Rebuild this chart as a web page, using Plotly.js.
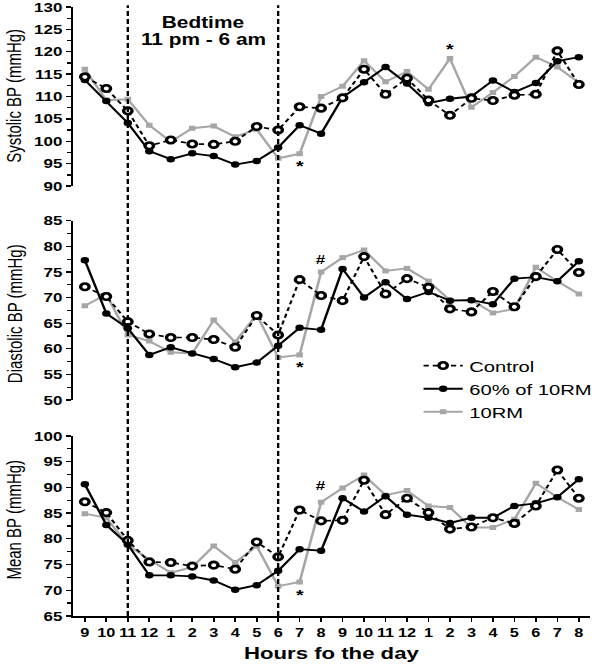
<!DOCTYPE html>
<html>
<head>
<meta charset="utf-8">
<script src="https://cdn.plot.ly/plotly-3.0.1.min.js"></script>
<style>
  html, body { margin: 0; padding: 0; background: #fff; overflow: hidden; }
  #plot { width: 460px; height: 664px; transform: scaleX(1.30435); transform-origin: 0 0; }
</style>
</head>
<body>
<div id="plot"></div>
<script>
// ---- data ----
const hours = ['9','10','11','12','1','2','3','4','5','6','7','8','9','10','11','12','1','2','3','4','5','6','7','8'];
const seriesNames = ['Control', '60% of 10RM', '10RM'];

const sysControl = [114.4,111.8,106.8,99.0,100.3,99.4,99.3,100.0,103.3,102.5,107.7,107.4,109.7,116.1,110.5,114.1,109.2,105.8,109.6,109.1,110.3,110.5,120.2,112.7];
const sys60      = [113.7,109.0,104.1,97.8,96.0,97.3,96.7,94.8,95.6,98.6,103.6,101.7,109.8,113.2,116.6,112.9,108.5,109.5,110.0,113.6,111.0,113.0,117.9,118.8];
const sys10RM    = [116.1,109.2,109.4,103.6,99.9,102.9,103.4,101.0,102.7,96.2,97.2,110.0,112.3,118.0,113.3,115.6,111.6,118.5,107.6,110.9,114.5,118.8,116.6,113.1];

const diaControl = [72.1,70.2,65.3,62.9,62.2,62.2,61.8,60.3,66.5,62.7,73.5,70.4,69.4,78.0,70.7,73.7,72.0,67.8,67.2,71.2,68.2,74.1,79.4,74.9];
const dia60      = [77.3,66.9,64.0,58.8,60.3,59.1,58.0,56.4,57.3,60.6,64.1,63.7,75.6,70.0,73.0,69.7,71.1,69.4,69.5,68.7,73.7,74.0,73.2,77.1];
const dia10RM    = [68.4,70.6,62.7,61.5,59.3,59.1,65.6,61.3,66.7,58.3,58.8,75.0,77.8,79.3,75.2,75.7,73.2,69.5,69.5,67.0,67.8,75.9,73.2,70.7];

const meanControl = [87.2,85.1,79.7,75.5,75.4,74.7,74.9,74.1,79.4,76.5,85.6,83.5,83.6,91.4,84.7,87.9,85.1,81.9,82.3,84.1,83.0,86.4,93.4,87.9];
const mean60      = [90.6,82.7,78.9,72.9,72.9,72.7,71.9,70.1,71.0,73.8,78.0,77.7,87.9,85.3,88.3,84.7,84.1,83.1,84.1,84.1,86.4,86.9,88.1,91.6];
const mean10RM    = [84.9,84.1,78.8,76.0,73.4,74.5,78.6,75.4,78.6,70.8,71.6,87.1,89.9,92.4,88.5,89.4,86.4,86.1,82.2,82.2,83.8,90.8,88.1,85.7];

// bedtime boundaries (hour index of 11 pm and 6 am)
const bedtimeIdx = [2, 9];
const bedtimeText = ['Bedtime', '11 pm - 6 am'];

// significance marks: [panel, hour index, value, symbol]
const sigPanel = ['sys','sys','dia','dia','mean','mean'];
const sigIdx   = [10, 17, 10, 11, 10, 11];
const sigVal   = [94.6, 120.8, 56.6, 77.4, 69.2, 90.3];
const sigText  = ['*', '*', '*', '#', '*', '#'];

const panelTitles = {sys: 'Systolic BP (mmHg)', dia: 'Diastolic BP (mmHg)', mean: 'Mean BP (mmHg)'};
const xTitle = 'Hours fo the day';

// ---- chart ----
const idx = hours.map((_, i) => i);
const axisOf = {mean: 'y', dia: 'y2', sys: 'y3'};
const GRAY = '#a6a6a6';
const FONT = 'Arial, "Liberation Sans", sans-serif';

function panelTraces(key, c, s60, s10, showLegend) {
  const ya = axisOf[key];
  return [
    {x: idx, y: s10, xaxis: 'x', yaxis: ya, mode: 'lines+markers', name: seriesNames[2], showlegend: showLegend,
     line: {color: GRAY, width: 2}, marker: {symbol: 'square', size: 5, color: GRAY}},
    {x: idx, y: s60, xaxis: 'x', yaxis: ya, mode: 'lines+markers', name: seriesNames[1], showlegend: showLegend,
     line: {color: '#000', width: 1.9}, marker: {symbol: 'circle', size: 6.5, color: '#000'}},
    {x: idx, y: c, xaxis: 'x', yaxis: ya, mode: 'lines+markers', name: seriesNames[0], showlegend: showLegend,
     line: {color: '#000', width: 1.7, dash: '4px,3px'},
     marker: {symbol: 'circle', size: 6.5, color: '#fff', line: {color: '#000', width: 2.6}}}
  ];
}

const data = [].concat(
  panelTraces('sys', sysControl, sys60, sys10RM, true),
  panelTraces('dia', diaControl, dia60, dia10RM, false),
  panelTraces('mean', meanControl, mean60, mean10RM, false)
);

function yAx(domain, range) {
  return {
    domain: domain, range: range, anchor: 'x', tick0: range[0], dtick: 5,
    showline: true, linecolor: '#000', linewidth: 1.6, ticks: 'outside', ticklen: 4, tickwidth: 1.3, tickcolor: '#000',
    minor: {dtick: 2.5, ticks: 'outside', ticklen: 3, tickwidth: 1.3, tickcolor: '#000'},
    tickfont: {family: FONT, size: 13, weight: 'bold', color: '#000'},
    ticklabeloverflow: 'allow',
    showgrid: false, zeroline: false, fixedrange: true
  };
}

const domains = {sys: [0.706, 1], dia: [0.3547, 0.649], mean: [0, 0.2956]};

const annotations = [];
// y titles
[['sys', 0.854], ['dia', 0.497], ['mean', 0.158]].forEach(([k, yc]) => {
  annotations.push({text: panelTitles[k], xref: 'paper', yref: 'paper', x: -0.114, y: yc,
    xanchor: 'center', yanchor: 'middle', textangle: -90, showarrow: false,
    font: {family: FONT, size: 15, color: '#000'}});
});
// x title
annotations.push({text: xTitle, xref: 'paper', yref: 'paper', x: 0.5, y: -0.061, xanchor: 'center', yanchor: 'middle',
  showarrow: false, font: {family: FONT, size: 17, weight: 'bold', color: '#000'}});
// bedtime label
annotations.push({text: bedtimeText[0], xref: 'x', yref: 'paper', x: (bedtimeIdx[0] + bedtimeIdx[1]) / 2, y: 0.974,
  xanchor: 'center', yanchor: 'middle', showarrow: false, font: {family: FONT, size: 16, weight: 'bold', color: '#000'}});
annotations.push({text: bedtimeText[1], xref: 'x', yref: 'paper', x: (bedtimeIdx[0] + bedtimeIdx[1]) / 2, y: 0.947,
  xanchor: 'center', yanchor: 'middle', showarrow: false, font: {family: FONT, size: 16, weight: 'bold', color: '#000'}});
// significance marks
sigText.forEach((t, i) => {
  annotations.push({text: t, xref: 'x', yref: axisOf[sigPanel[i]], x: sigIdx[i], y: sigVal[i],
    xanchor: 'center', yanchor: 'middle', showarrow: false,
    font: {family: FONT, size: t === '*' ? 15 : 13, weight: 'bold', color: '#000'}});
});

const shapes = bedtimeIdx.map(v => ({type: 'line', xref: 'x', yref: 'paper', x0: v, x1: v, y0: 0, y1: 1.003,
  line: {color: '#000', width: 1.8, dash: '5px,3px'}}));

const layout = {
  width: 460, height: 664,
  margin: {l: 56, r: 8, t: 7, b: 48, autoexpand: false},
  paper_bgcolor: '#fff', plot_bgcolor: '#fff',
  font: {family: FONT, color: '#000'},
  showlegend: true,
  legend: {x: 0.666, xanchor: 'left', y: 0.4385, yanchor: 'top', traceorder: 'reversed',
    bgcolor: 'rgba(0,0,0,0)', font: {family: FONT, size: 15.5, color: '#000'}, itemwidth: 30, tracegroupgap: 0},
  xaxis: {
    domain: [0, 1], range: [-0.55, 23.5], anchor: 'y', tickmode: 'array', tickvals: idx, ticktext: hours,
    showline: true, linecolor: '#000', linewidth: 1.6, ticks: 'outside', ticklen: 4, tickwidth: 1.3, tickcolor: '#000',
    tickfont: {family: FONT, size: 12.5, weight: 'bold', color: '#000'}, tickangle: 0,
    showgrid: false, zeroline: false, fixedrange: true
  },
  yaxis: yAx(domains.mean, [65, 100]),
  yaxis2: yAx(domains.dia, [50, 85]),
  yaxis3: yAx(domains.sys, [90, 130]),
  annotations: annotations,
  shapes: shapes
};

Plotly.newPlot('plot', data, layout, {displayModeBar: false, staticPlot: true});
</script>
</body>
</html>
